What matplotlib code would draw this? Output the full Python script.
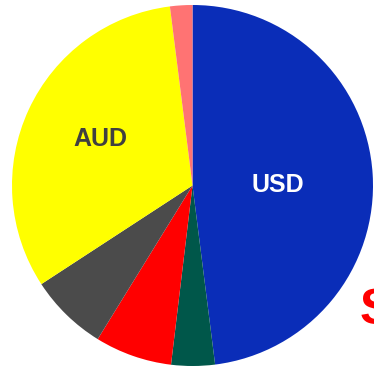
import matplotlib.pyplot as plt
import numpy as np

# currency shares, clockwise from 12 o'clock
currencies = ["USD", "Other1", "Other2", "Other3", "AUD", "Other4"]
shares = [48.0, 3.9, 6.9, 7.0, 32.2, 2.0]
colors = ["#0a2db8", "#00574a", "#ff0000", "#4b4b4b", "#ffff00", "#ff7373"]
# label colour, radius fraction, angle (deg) for the labelled slices
shown = {"USD": ("white", 0.47, 0.0), "AUD": ("#404040", 0.57, 153.3)}

fig = plt.figure(figsize=(3.74, 3.69), dpi=100)
ax = fig.add_axes([0, 0, 1, 1])

cx, cy, r = 192.5, 183.5, 180.5
wedges, _ = ax.pie(shares, colors=colors, startangle=90, counterclock=False,
                   center=(cx, cy), radius=r,
                   wedgeprops=dict(linewidth=0, antialiased=True))

for name, (col, dist, ang) in shown.items():
    a = np.deg2rad(ang)
    ax.text(cx + dist * r * np.cos(a), cy + dist * r * np.sin(a), name,
            ha="center", va="center", color=col, fontsize=18,
            fontweight="bold", family="Liberation Sans")

ax.set_xlim(0, 374)
ax.set_ylim(0, 369)
ax.set_aspect("equal")
ax.axis("off")

# title text cut off at the right edge in the original
fig.text(360 / 374, 1 - 324 / 369, "S", color="#ff0000", fontsize=36,
         fontweight="bold", family="Liberation Sans", ha="left", va="baseline")

fig.savefig("out.png", dpi=100)
